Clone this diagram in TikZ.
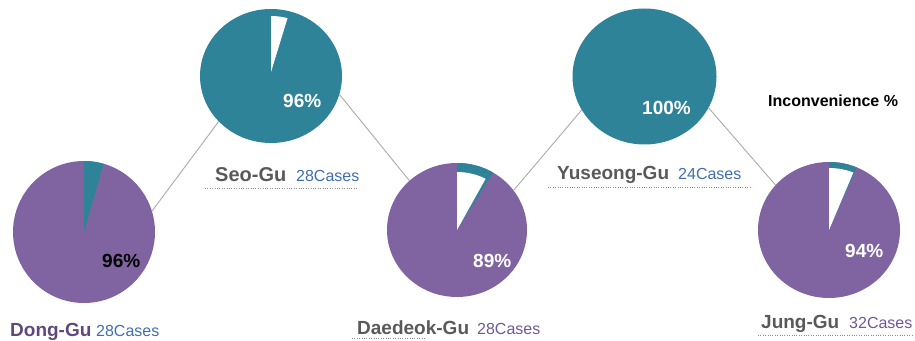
\documentclass[tikz,border=0pt]{standalone}
\usepackage{fontspec}
\setmainfont{Liberation Sans}
\usetikzlibrary{shapes.geometric}
\definecolor{pieteal}{RGB}{47,131,153}
\definecolor{piepurp}{RGB}{128,100,162}
\definecolor{graytxt}{RGB}{89,89,89}
\definecolor{bluecase}{RGB}{64,110,175}
\definecolor{purpcase}{RGB}{112,88,152}
\definecolor{donglbl}{RGB}{96,73,122}
\definecolor{connc}{RGB}{170,170,170}
\definecolor{dotc}{RGB}{140,140,140}
\tikzset{
  pie/.style={ellipse, inner sep=0pt, outer sep=0pt, draw=none},
  conn/.style={draw=connc, line width=0.9pt},
  dotline/.style={draw=dotc, line width=0.9pt, dash pattern=on 0.9pt off 1.5pt},
  lblb/.style={anchor=base west, inner sep=0pt, font=\fontsize{19}{19}\selectfont\bfseries, text=graytxt},
  lblc/.style={anchor=base west, inner sep=0pt, font=\fontsize{16}{16}\selectfont, text=bluecase},
  pct/.style={anchor=base west, inner sep=0pt, font=\fontsize{19}{19}\selectfont\bfseries, text=white}
}
\begin{document}
\begin{tikzpicture}[x=1pt,y=1pt]
\useasboundingbox (0,0) rectangle (915,340);
% pies
\node[pie, fill=piepurp, minimum width=142pt, minimum height=142pt] (dong) at (84,108) {};
\node[pie, fill=pieteal, minimum width=142pt, minimum height=134pt] (seo) at (271,264) {};
\node[pie, fill=piepurp, minimum width=140pt, minimum height=134pt] (dae) at (457,110) {};
\node[pie, fill=pieteal, minimum width=144pt, minimum height=136pt] (yus) at (644.5,263.5) {};
\node[pie, fill=piepurp, minimum width=142pt, minimum height=136pt] (jung) at (829,110) {};
% wedges
\fill[pieteal] (dong.center) -- ++(90:71pt and 71pt) arc[start angle=90, end angle=74, x radius=71pt, y radius=71pt] -- cycle;
\fill[white] ([yshift=4pt]seo.center) -- ++(90:60pt and 56pt) arc[start angle=90, end angle=74, x radius=60pt, y radius=56pt] -- cycle;
\fill[pieteal] (dae.center) -- ++(90:70pt and 67pt) arc[start angle=90, end angle=59, x radius=70pt, y radius=67pt] -- cycle;
\fill[white] (dae.center) -- ++(90:61pt and 58pt) arc[start angle=90, end angle=62, x radius=61pt, y radius=58pt] -- cycle;
\fill[pieteal] (jung.center) -- ++(90:71pt and 68pt) arc[start angle=90, end angle=67, x radius=71pt, y radius=68pt] -- cycle;
\fill[white] (jung.center) -- ++(90:65pt and 62pt) arc[start angle=90, end angle=68, x radius=65pt, y radius=62pt] -- cycle;
% connectors
\draw[conn] (dong.17.7) -- (seo.221.6);
\draw[conn] (seo.-15.4) -- (dae.134.4);
\draw[conn] (dae.35.9) -- (yus.208.8);
\draw[conn] (yus.-26.4) -- (jung.140.9);
% percentages
\node[pct, text=black] (dongpct) at (102,72) {96\%};
\node[pct] (seopct) at (283,232) {96\%};
\node[pct] (daepct) at (473,72) {89\%};
\node[pct] (yuspct) at (642,225) {100\%};
\node[pct] (jungpct) at (845,82) {94\%};
\node[anchor=base west, inner sep=0pt, font=\fontsize{16}{16}\selectfont\bfseries] (legend) at (768,233) {Inconvenience \%};
% labels
\node[lblb, text=donglbl] (donglbl) at (10,4) {Dong-Gu};
\node[lblc] (dongcase) at (96,4) {28Cases};
\node[lblb, font=\fontsize{20}{20}\selectfont\bfseries] (seolbl) at (215,158) {Seo-Gu};
\node[lblc] (seocase) at (296,158) {28Cases};
\node[lblb] (daelbl) at (357,6) {Daedeok-Gu};
\node[lblc, text=purpcase] (daecase) at (477,6) {28Cases};
\node[lblb] (yuslbl) at (557,160) {Yuseong-Gu};
\node[lblc] (yuscase) at (678,160) {24Cases};
\node[lblb] (junglbl) at (761,12) {Jung-Gu};
\node[lblc, text=purpcase] (jungcase) at (849,12) {32Cases};
% dotted underlines
\coordinate (seoA) at (205,152); \coordinate (seoB) at (358,152);
\coordinate (yusA) at (548,153); \coordinate (yusB) at (752,153);
\coordinate (daeA) at (352,1.5); \coordinate (daeB) at (425,1.5);
\coordinate (jungA) at (758,5); \coordinate (jungB) at (912,5);
\draw[dotline] (seoA) -- (seoB);
\draw[dotline] (yusA) -- (yusB);
\draw[dotline] (daeA) -- (daeB);
\draw[dotline] (jungA) -- (jungB);
\end{tikzpicture}
\end{document}
